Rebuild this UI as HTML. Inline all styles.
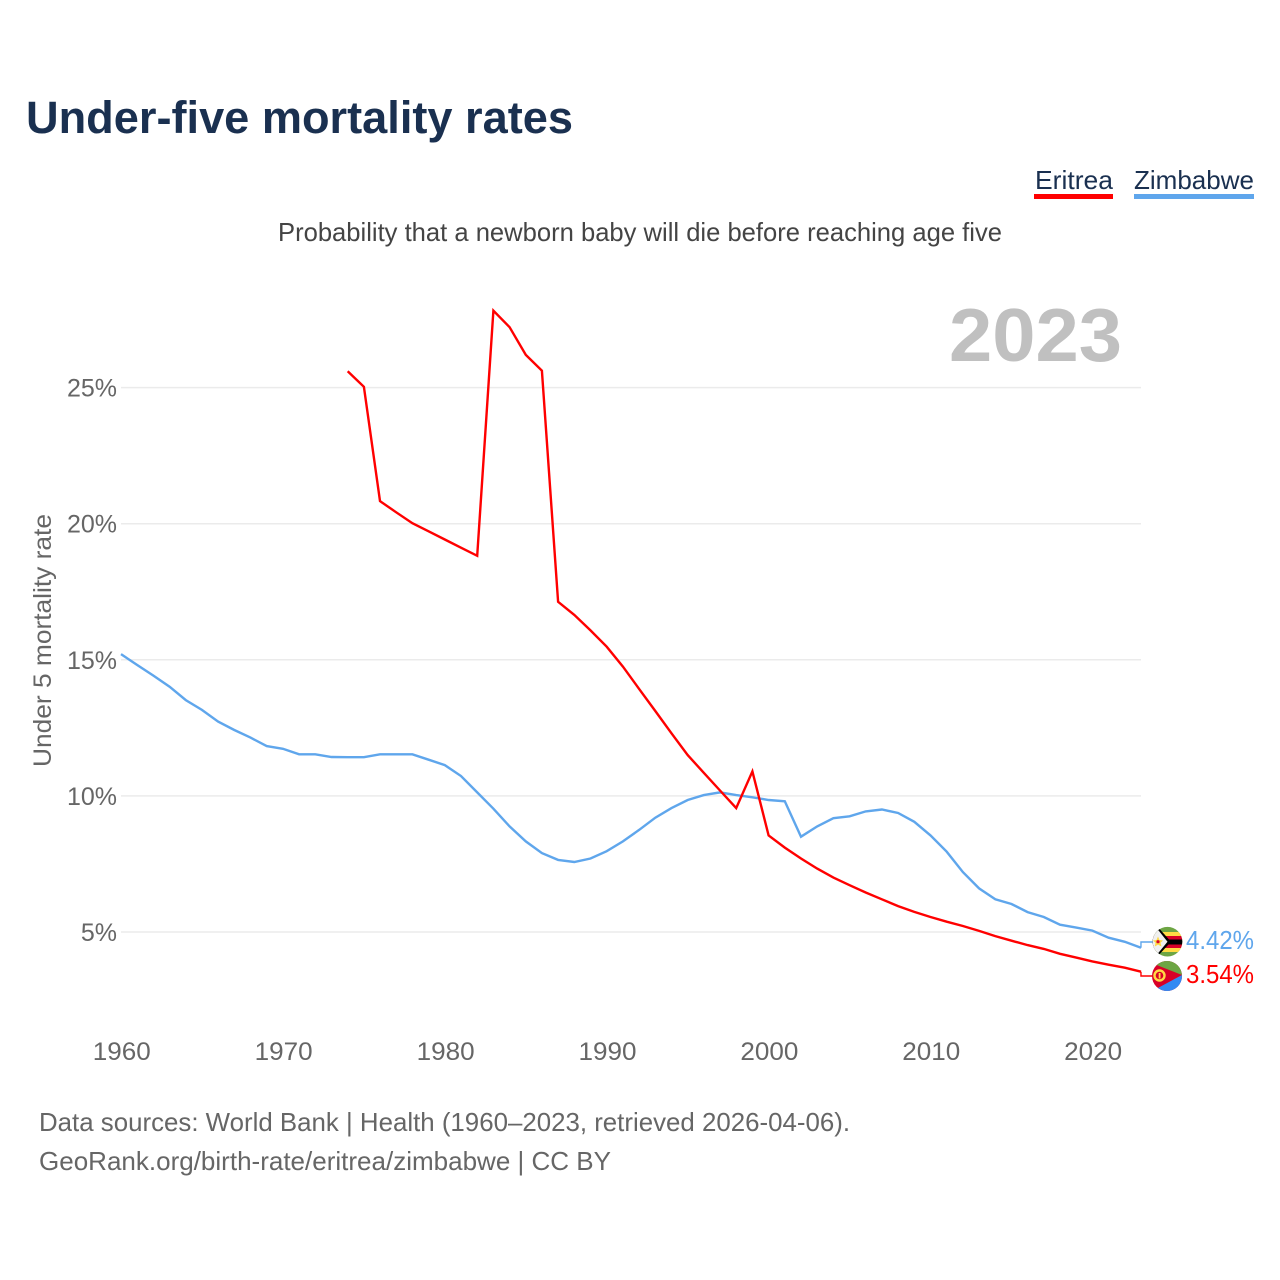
<!DOCTYPE html>
<html lang="en">
<head>
<meta charset="utf-8">
<title>Under-five mortality rates</title>
<style>
html,body{margin:0;padding:0;background:#fff;width:1280px;height:1280px;overflow:hidden}
svg{display:block}
text{font-family:"Liberation Sans",sans-serif}
</style>
</head>
<body>
<svg id="chart" width="1280" height="1280" viewBox="0 0 1280 1280" xmlns="http://www.w3.org/2000/svg">
  <defs>
    <clipPath id="flag-clip-zw"><circle cx="1167.5" cy="941.7" r="14.8"/></clipPath>
    <clipPath id="flag-clip-er"><circle cx="1167" cy="976" r="15"/></clipPath>
  </defs>
  <text x="26" y="133" font-size="45" font-weight="700" fill="#1a3050" textLength="547" lengthAdjust="spacingAndGlyphs">Under-five mortality rates</text>
  <text x="278" y="241" font-size="26" fill="#444" textLength="724" lengthAdjust="spacingAndGlyphs">Probability that a newborn baby will die before reaching age five</text>

  <g>
    <text x="1035" y="189" font-size="26" fill="#1a3050" textLength="78" lengthAdjust="spacingAndGlyphs">Eritrea</text>
    <rect x="1034" y="194" width="79" height="5" fill="#ff0000"/>
    <text x="1134" y="189" font-size="26" fill="#1a3050" textLength="120" lengthAdjust="spacingAndGlyphs">Zimbabwe</text>
    <rect x="1134" y="194" width="120" height="5" fill="#5fa6ec"/>
  </g>

  <text x="949" y="361" font-size="75" font-weight="700" fill="#c0c0c0" textLength="173" lengthAdjust="spacingAndGlyphs">2023</text>
  <text transform="translate(51,767) rotate(-90)" x="0" y="0" font-size="25" fill="#666" textLength="253" lengthAdjust="spacingAndGlyphs">Under 5 mortality rate</text>

  <g id="grid"></g>
  <g id="y-ticks"></g>
  <g id="x-ticks"></g>
  <g id="series"></g>
  <g id="end-connectors"></g>

  <g clip-path="url(#flag-clip-zw)">
    <rect x="1152" y="926" width="31" height="31" fill="#6da544"/>
    <rect x="1152" y="932" width="31" height="4" fill="#ffda44"/>
    <rect x="1152" y="936" width="31" height="3.5" fill="#d80027"/>
    <rect x="1152" y="939.5" width="31" height="5" fill="#000"/>
    <rect x="1152" y="944.5" width="31" height="3.5" fill="#d80027"/>
    <rect x="1152" y="948" width="31" height="4" fill="#ffda44"/>
    <polygon points="1152,926 1157,926 1171,941.7 1157,957 1152,957" fill="#000"/>
    <polygon points="1152,926 1155,926 1167.5,941.7 1155,957 1152,957" fill="#f0f0f0"/>
    <polygon points="1158,936.5 1159.5,940 1163,940.5 1160.5,942.8 1161.5,946.5 1158,944.6 1154.8,946.5 1155.5,942.8 1153,940.5 1156.5,940" fill="#ffda44"/>
    <circle cx="1158" cy="941.7" r="1.6" fill="#d80027"/>
  </g>
  <g clip-path="url(#flag-clip-er)">
    <rect x="1152" y="961" width="30" height="30" fill="#d80027"/>
    <polygon points="1152,961 1182,961 1182,975 1154,964" fill="#6da544"/>
    <polygon points="1182,975 1156,989 1156,991 1182,991" fill="#338af3"/>
    <circle cx="1159.5" cy="975.5" r="5" fill="none" stroke="#ffda44" stroke-width="2.4"/>
    <rect x="1158.7" y="973" width="1.8" height="5.5" fill="#ffda44"/>
  </g>
  <g id="end-labels"></g>

  <text x="39" y="1131" font-size="26" fill="#666" textLength="811" lengthAdjust="spacingAndGlyphs">Data sources: World Bank | Health (1960–2023, retrieved 2026-04-06).</text>
  <text x="39" y="1170" font-size="26" fill="#666" textLength="572" lengthAdjust="spacingAndGlyphs">GeoRank.org/birth-rate/eritrea/zimbabwe | CC BY</text>
</svg>
<script>
const yTickValues = [5, 10, 15, 20, 25];
const xTickValues = [1960, 1970, 1980, 1990, 2000, 2010, 2020];
const zimbabweYears = [1960,1961,1962,1963,1964,1965,1966,1967,1968,1969,1970,1971,1972,1973,1974,1975,1976,1977,1978,1979,1980,1981,1982,1983,1984,1985,1986,1987,1988,1989,1990,1991,1992,1993,1994,1995,1996,1997,1998,1999,2000,2001,2002,2003,2004,2005,2006,2007,2008,2009,2010,2011,2012,2013,2014,2015,2016,2017,2018,2019,2020,2021,2022,2023];
const zimbabweValues = [15.21,14.81,14.42,14.01,13.52,13.16,12.73,12.42,12.14,11.83,11.73,11.53,11.53,11.43,11.42,11.42,11.53,11.53,11.53,11.33,11.13,10.73,10.13,9.53,8.88,8.33,7.9,7.65,7.57,7.7,7.97,8.33,8.75,9.2,9.55,9.85,10.03,10.13,10.03,9.95,9.85,9.8,8.5,8.88,9.18,9.25,9.43,9.5,9.37,9.05,8.55,7.95,7.2,6.6,6.2,6.03,5.73,5.55,5.27,5.16,5.05,4.79,4.64,4.42];
const eritreaYears = [1974,1975,1976,1977,1978,1979,1980,1981,1982,1983,1984,1985,1986,1987,1988,1989,1990,1991,1992,1993,1994,1995,1996,1997,1998,1999,2000,2001,2002,2003,2004,2005,2006,2007,2008,2009,2010,2011,2012,2013,2014,2015,2016,2017,2018,2019,2020,2021,2022,2023];
const eritreaValues = [25.6,25.03,20.83,20.42,20.02,19.72,19.42,19.12,18.82,27.83,27.22,26.2,25.62,17.13,16.65,16.08,15.48,14.75,13.93,13.12,12.3,11.5,10.85,10.2,9.55,10.9,8.55,8.1,7.7,7.33,7.0,6.72,6.45,6.2,5.95,5.74,5.55,5.38,5.22,5.04,4.85,4.68,4.52,4.38,4.2,4.06,3.92,3.8,3.69,3.54];

const NS = 'http://www.w3.org/2000/svg';
function xScale(year) { return 121 + (year - 1960) * 16.19; }
function yScale(value) { return 932 - (value - 5) * 27.22; }

function make(tag, attrs, parent, text) {
  const el = document.createElementNS(NS, tag);
  for (const k in attrs) el.setAttribute(k, attrs[k]);
  if (text !== undefined) el.textContent = text;
  parent.appendChild(el);
  return el;
}

const gridG = document.getElementById('grid');
const yG = document.getElementById('y-ticks');
const xG = document.getElementById('x-ticks');
const seriesG = document.getElementById('series');
const connG = document.getElementById('end-connectors');
const endG = document.getElementById('end-labels');

yTickValues.forEach(function (v) {
  const line = make('line', {x1: 121, x2: 1141, y1: yScale(v), y2: yScale(v), stroke: '#ebebeb', 'stroke-width': 1.5}, gridG);
  
  
  const label = make('text', {x: 117, y: yScale(v) + 9, 'text-anchor': 'end', 'font-size': 25, fill: '#666'}, yG, v + '%');
  
  
});

xTickValues.forEach(function (y) {
  const label = make('text', {x: xScale(y) + 0.8, y: 1060, 'text-anchor': 'middle', 'font-size': 25, fill: '#666', textLength: 58, lengthAdjust: 'spacingAndGlyphs'}, xG, String(y));
  
  
});

function pathFrom(years, values) {
  return years.map(function (y, i) {
    return (i ? 'L' : 'M') + xScale(y).toFixed(1) + ' ' + yScale(values[i]).toFixed(1);
  }).join(' ');
}

const zimbabweLine = make('path', {d: pathFrom(zimbabweYears, zimbabweValues), fill: 'none', stroke: '#5fa6ec', 'stroke-width': 2.4, 'stroke-linejoin': 'miter'}, seriesG);



const eritreaLine = make('path', {d: pathFrom(eritreaYears, eritreaValues), fill: 'none', stroke: '#ff0000', 'stroke-width': 2.4, 'stroke-linejoin': 'miter'}, seriesG);



const zLastX = xScale(zimbabweYears[zimbabweYears.length - 1]);
const zLastV = zimbabweValues[zimbabweValues.length - 1];
const zConn = make('path', {d: 'M' + zLastX + ' ' + yScale(zLastV) + ' V942 H1153', fill: 'none', stroke: '#5fa6ec', 'stroke-width': 1.4}, connG);


const zLabel = make('text', {x: 1254, y: 949, 'text-anchor': 'end', 'font-size': 26, fill: '#5fa6ec', textLength: 68, lengthAdjust: 'spacingAndGlyphs'}, endG, zLastV.toFixed(2) + '%');



const eLastX = xScale(eritreaYears[eritreaYears.length - 1]);
const eLastV = eritreaValues[eritreaValues.length - 1];
const eConn = make('path', {d: 'M' + eLastX + ' ' + yScale(eLastV) + ' V976 H1153', fill: 'none', stroke: '#ff0000', 'stroke-width': 1.4}, connG);


const eLabel = make('text', {x: 1254, y: 983, 'text-anchor': 'end', 'font-size': 26, fill: '#ff0000', textLength: 68, lengthAdjust: 'spacingAndGlyphs'}, endG, eLastV.toFixed(2) + '%');


</script>
</body>
</html>
